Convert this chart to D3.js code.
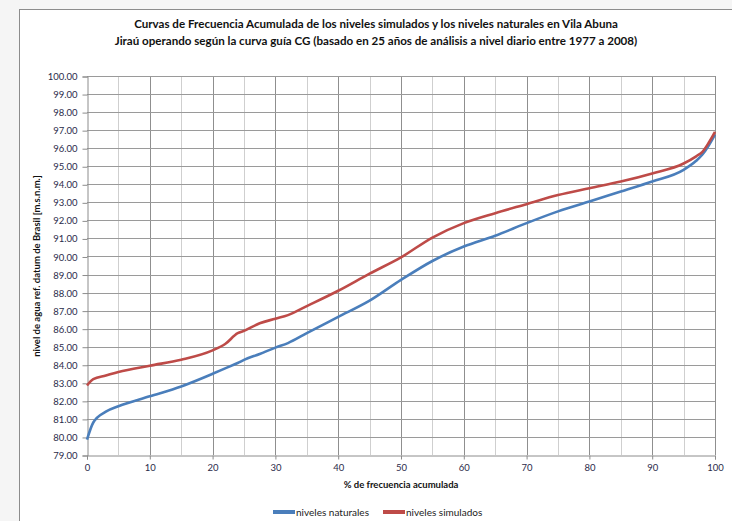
<!DOCTYPE html>
<html>
<head>
<meta charset="utf-8">
<script src="https://cdn.jsdelivr.net/npm/d3@7"></script>
<style>
 body { margin: 0; background: #fff; }
 text { font-family: Lato, "Noto Sans", sans-serif; }
</style>
</head>
<body>
<div id="chart"></div>
<script>
/*************
Data
**************/
var freq = [0, 1, 3, 5, 10, 15, 20, 22, 24, 25, 27.5, 30, 32, 35, 40, 45, 50, 55, 60, 65, 70, 75, 80, 85, 90, 95, 97, 98, 99, 100];
var naturales = [79.85, 80.8, 81.4, 81.7, 82.25, 82.8, 83.5, 83.8, 84.1, 84.27, 84.6, 84.95, 85.2, 85.75, 86.65, 87.55, 88.7, 89.75, 90.55, 91.15, 91.85, 92.5, 93.05, 93.6, 94.15, 94.8, 95.3, 95.65, 96.15, 96.75];
var simulados = [82.85, 83.2, 83.4, 83.6, 83.95, 84.28, 84.8, 85.15, 85.75, 85.88, 86.3, 86.55, 86.75, 87.25, 88.1, 89.05, 89.95, 91.05, 91.85, 92.4, 92.9, 93.4, 93.78, 94.15, 94.6, 95.15, 95.55, 95.8, 96.3, 96.9];

var seriesNames = ["niveles naturales", "niveles simulados"];
var seriesColors = ["#4a7ebb", "#be4b48"];
var titleLines = [
 "Curvas de Frecuencia Acumulada de los niveles simulados y los niveles naturales en Vila Abuna",
 "Jiraú operando según la curva guía CG (basado en 25 años de análisis a nivel diario entre 1977 a 2008)"
];
var xTicks = d3.range(0, 101, 10);
var yTicks = d3.range(79, 101, 1);

/*************
Params
**************/
var W = 732, H = 521;
var plotL = 87, plotR = 715, plotT = 76, plotB = 455;

var svg = d3.select("#chart").append("svg")
 .attr("width", W)
 .attr("height", H);

// page frame
svg.append("rect").attr("width", W).attr("height", H).attr("fill", "#f5f5f5");
svg.append("rect")
 .attr("x", 19.5).attr("y", 9.5)
 .attr("width", W).attr("height", H)
 .attr("fill", "#fff")
 .attr("stroke", "#8c8c8c");

var x = d3.scaleLinear().domain([0, 100]).range([plotL, plotR]);
var y = d3.scaleLinear().domain([79, 100]).range([plotB, plotT]);

// grid
svg.append("g").selectAll("line")
 .data(d3.range(5, 101, 5))
 .enter().append("line")
 .attr("x1", d => Math.round(x(d)) + 0.5).attr("x2", d => Math.round(x(d)) + 0.5)
 .attr("y1", plotT).attr("y2", plotB)
 .attr("stroke", d => d % 10 === 0 ? "#8f8f8f" : "#cfcfcf");

svg.append("g").selectAll("line")
 .data(yTicks.slice(1))
 .enter().append("line")
 .attr("x1", plotL).attr("x2", plotR)
 .attr("y1", d => Math.round(y(d)) + 0.5).attr("y2", d => Math.round(y(d)) + 0.5)
 .attr("stroke", "#9a9a9a");

// axes
var yAxis = svg.append("g")
 .attr("transform", "translate(" + (plotL + 0.5) + ",0.5)")
 .call(d3.axisLeft(y).tickValues(yTicks).tickFormat(d3.format(".2f")).tickSize(5).tickPadding(5));
var xAxis = svg.append("g")
 .attr("transform", "translate(0," + (plotB + 0.5) + ")")
 .call(d3.axisBottom(x).tickValues(xTicks).tickSize(4).tickPadding(5));

[yAxis, xAxis].forEach(function (a) {
 a.select(".domain").attr("stroke", "#8c8c8c");
 a.selectAll(".tick line").attr("stroke", "#8c8c8c");
 a.selectAll("text").attr("fill", "#2b2b4a").style("font-size", "9.5px");
});

// series
var line = d3.line()
 .x((d, i) => x(freq[i]))
 .y(d => y(d))
 .curve(d3.curveMonotoneX);

[naturales, simulados].forEach(function (s, i) {
 svg.append("path")
  .attr("d", line(s))
  .attr("fill", "none")
  .attr("stroke", seriesColors[i])
  .attr("stroke-width", 2.6)
  .attr("stroke-linejoin", "round");
});

// titles
svg.append("g").selectAll("text")
 .data(titleLines)
 .enter().append("text")
 .attr("x", 376)
 .attr("y", (d, i) => 28 + i * 17)
 .attr("text-anchor", "middle")
 .style("font-size", "11.6px")
 .style("font-weight", "bold")
 .attr("fill", "#111")
 .text(d => d);

svg.append("text")
 .attr("x", 401).attr("y", 488)
 .attr("text-anchor", "middle")
 .style("font-size", "9.5px")
 .style("font-weight", "bold")
 .attr("fill", "#111")
 .text("% de frecuencia acumulada");

svg.append("text")
 .attr("transform", "translate(40,266) rotate(-90)")
 .attr("text-anchor", "middle")
 .style("font-size", "9.5px")
 .style("font-weight", "bold")
 .attr("fill", "#111")
 .text("nivel de agua ref. datum de Brasil [m.s.n.m.]");

// legend
var legend = svg.append("g").selectAll("g")
 .data(seriesNames)
 .enter().append("g")
 .attr("transform", (d, i) => "translate(" + (273 + i * 110) + ",512)");
legend.append("line")
 .attr("x1", 0).attr("x2", 22)
 .attr("stroke", (d, i) => seriesColors[i])
 .attr("stroke-width", 4);
legend.append("text")
 .attr("x", 23).attr("y", 3.5)
 .style("font-size", "10px")
 .attr("fill", "#222")
 .text(d => d);
</script>
</body>
</html>
